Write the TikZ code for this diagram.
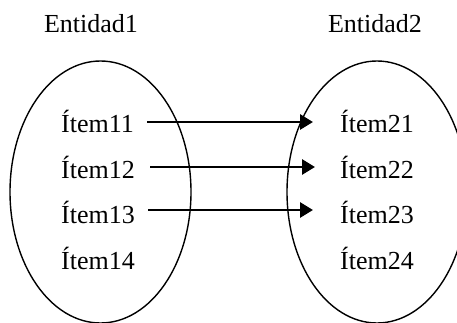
\documentclass[tikz,border=0pt]{standalone}
\usepackage{fontspec}
\setmainfont{Liberation Serif}
\usetikzlibrary{arrows.meta}
\begin{document}
\begin{tikzpicture}[x=1pt,y=1pt,
  lbl/.style={font=\fontsize{26}{31}\selectfont, inner sep=0pt},
  ent/.style={draw, line width=1.4pt},
  arr/.style={line width=2.8pt, -{Triangle[length=13pt,width=15pt]}}]
\useasboundingbox (0,0) rectangle (457,322);
\clip (0,0) rectangle (457,322);
\draw[ent] (100.5,130) ellipse [x radius=90.5, y radius=131];
\draw[ent] (377,130) ellipse [x radius=90, y radius=131];
\node[lbl, anchor=base] (e1) at (91,289) {Entidad1};
\node[lbl, anchor=base] (e2) at (375,289) {Entidad2};
\node[lbl, anchor=base west] (i11) at (61,190) {Ítem11};
\node[lbl, anchor=base west] (i12) at (61,144) {Ítem12};
\node[lbl, anchor=base west] (i13) at (61,99) {Ítem13};
\node[lbl, anchor=base west] (i14) at (61,53) {Ítem14};
\node[lbl, anchor=base west] (i21) at (340,190) {Ítem21};
\node[lbl, anchor=base west] (i22) at (340,144) {Ítem22};
\node[lbl, anchor=base west] (i23) at (340,99) {Ítem23};
\node[lbl, anchor=base west] (i24) at (340,53) {Ítem24};
\draw[arr] ([xshift=13pt,yshift=10pt]i11.base east) -- ([xshift=-27pt,yshift=10pt]i21.base west);
\draw[arr] ([xshift=15pt,yshift=11pt]i12.base east) -- ([xshift=-25pt,yshift=11pt]i22.base west);
\draw[arr] ([xshift=13pt,yshift=13pt]i13.base east) -- ([xshift=-27pt,yshift=13pt]i23.base west);
\end{tikzpicture}
\end{document}
